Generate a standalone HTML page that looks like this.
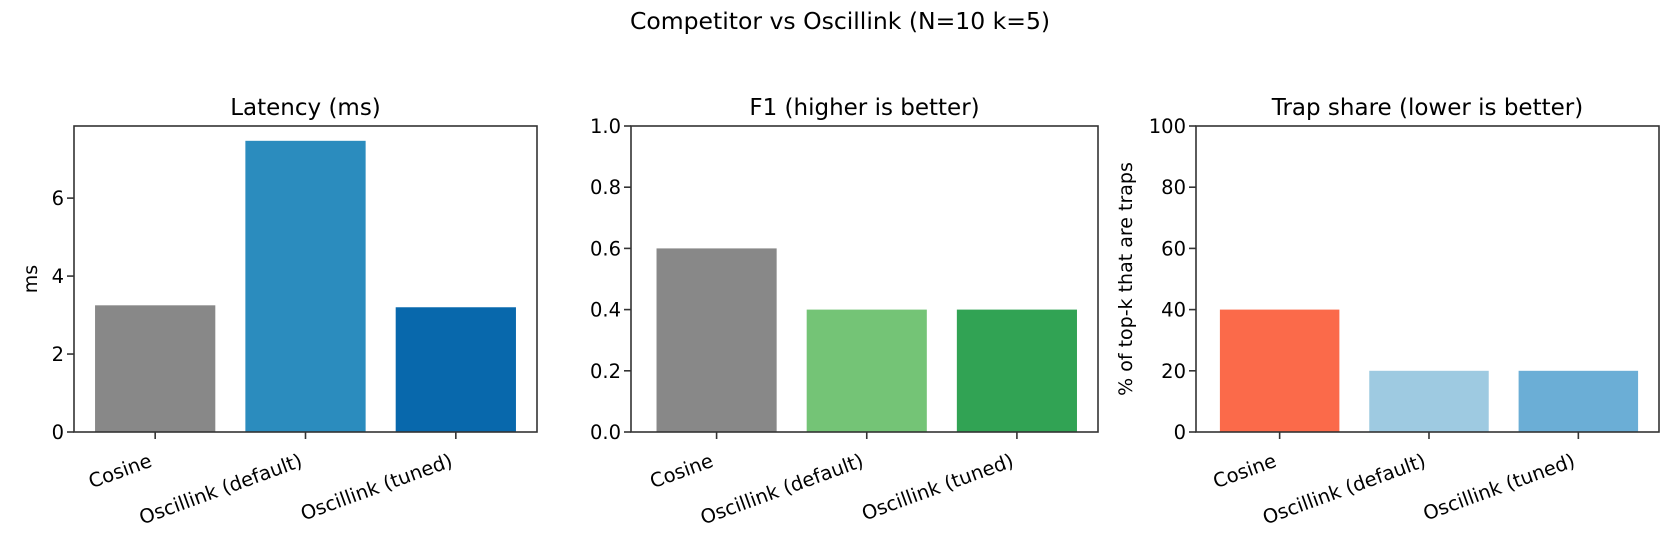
<!DOCTYPE html>
<html><head><meta charset="utf-8"><style>
html,body{margin:0;padding:0;background:#fff;}
svg{display:block;font-family:"DejaVu Sans","Liberation Sans",sans-serif;}
</style></head><body>
<svg id="chart" width="1680" height="560" viewBox="0 0 1680 560" xmlns="http://www.w3.org/2000/svg">
<text x="840" y="29" text-anchor="middle" font-size="23.5" fill="#000">Competitor vs Oscillink (N=10 k=5)</text>
</svg>
<script>
const categories = ["Cosine", "Oscillink (default)", "Oscillink (tuned)"];
const latencyValues = [3.25, 7.47, 3.2];
const f1Values = [0.6, 0.4, 0.4];
const trapValues = [40, 20, 20];
const latencyTicks = [0, 2, 4, 6];
const f1Ticks = [0.0, 0.2, 0.4, 0.6, 0.8, 1.0];
const trapTicks = [0, 20, 40, 60, 80, 100];
const latencyColors = ["#888888", "#2b8cbe", "#0868ac"];
const f1Colors = ["#888888", "#74c476", "#31a354"];
const trapColors = ["#fb6a4a", "#9ecae1", "#6baed6"];

const NS = "http://www.w3.org/2000/svg";
const svgEl = document.getElementById("chart");
function mk(tag, attrs, parent) {
  const e = document.createElementNS(NS, tag);
  for (const k in attrs) e.setAttribute(k, attrs[k]);
  (parent || svgEl).appendChild(e);
  return e;
}
const axTop = 126, axBottom = 432;
function panel(key, x0, x1, lo, hi, title, values, colors, ticks, ymax, fmt, ylabel, ylabelX) {
  const g = mk("g", {});
  
  
  const xs = v => x0 + (v - lo) / (hi - lo) * (x1 - x0);
  const ys = v => axBottom - v / ymax * (axBottom - axTop);
  const t = mk("text", {x: (x0 + x1) / 2, y: 115, "text-anchor": "middle", "font-size": 23, fill: "#000"}, g);
  t.textContent = title;
  
  
  values.forEach((v, i) => {
    const r = mk("rect", {x: xs(i - 0.4), y: ys(v), width: xs(i + 0.4) - xs(i - 0.4), height: axBottom - ys(v), fill: colors[i]}, g);
    
    
  });
  ticks.forEach(tv => {
    const y = ys(tv);
    mk("line", {x1: x0 - 7, x2: x0, y1: y, y2: y, stroke: "#333", "stroke-width": 1.6}, g);
    const l = mk("text", {x: x0 - 10, y: y + 7, "text-anchor": "end", "font-size": 19.5, fill: "#000"}, g);
    l.textContent = fmt(tv);
    
    
  });
  categories.forEach((c, i) => {
    const x = xs(i);
    mk("line", {x1: x, x2: x, y1: axBottom, y2: axBottom + 7, stroke: "#333", "stroke-width": 1.6}, g);
    const l = mk("text", {x: x - 2, y: axBottom + 34, "text-anchor": "end", "font-size": 19.5, fill: "#000",
      transform: `rotate(-20 ${x - 2} ${axBottom + 34})`}, g);
    l.textContent = c;
    
    
  });
  const f = mk("rect", {x: x0, y: axTop, width: x1 - x0, height: axBottom - axTop, fill: "none", stroke: "#333", "stroke-width": 1.6}, g);
  
  
  if (ylabel) {
    const yl = mk("text", {x: ylabelX, y: (axTop + axBottom) / 2, "text-anchor": "middle", "font-size": 19, fill: "#000",
      transform: `rotate(-90 ${ylabelX} ${(axTop + axBottom) / 2})`}, g);
    yl.textContent = ylabel;
    
    
  }
}
panel("latency", 74, 537, -0.54, 2.54, "Latency (ms)", latencyValues, latencyColors, latencyTicks, 7.85, v => String(v), "ms", 37);
panel("f1", 631, 1098, -0.57, 2.54, "F1 (higher is better)", f1Values, f1Colors, f1Ticks, 1.0, v => v.toFixed(1), null, 0);
panel("trap", 1196, 1659, -0.56, 2.54, "Trap share (lower is better)", trapValues, trapColors, trapTicks, 100, v => String(v), "% of top-k that are traps", 1132);
</script>
</body></html>
